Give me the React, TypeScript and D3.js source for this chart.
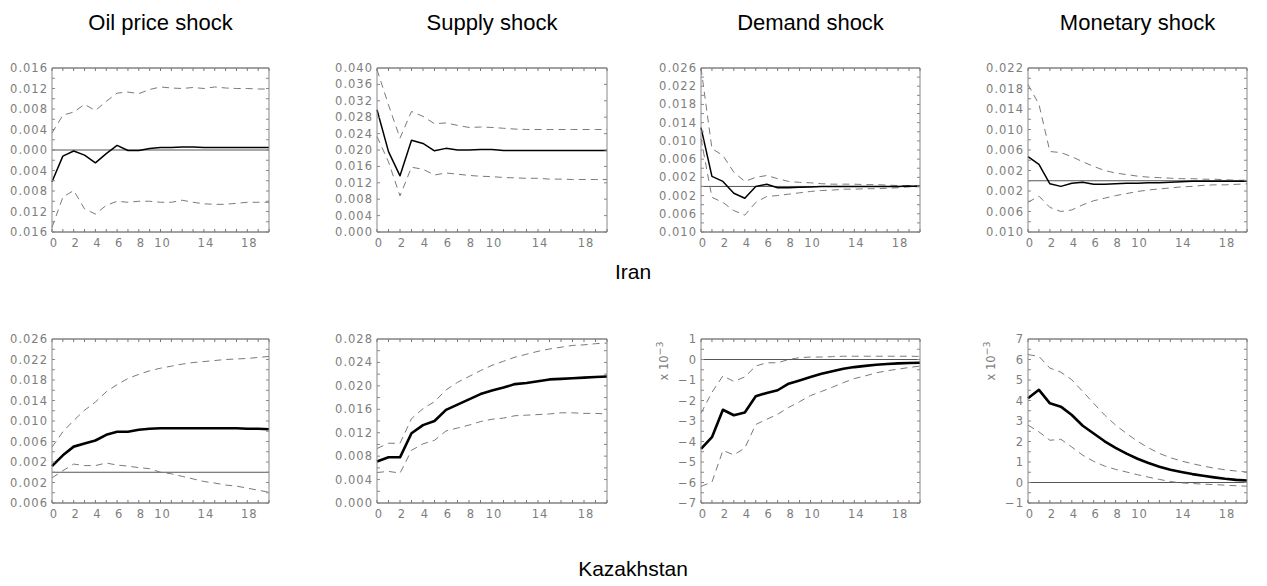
import * as d3 from "d3";

// horizon (quarters after the shock)
const horizon = [0, 1, 2, 3, 4, 5, 6, 7, 8, 9, 10, 11, 12, 13, 14, 15, 16, 17, 18, 19, 20];
const xTicks = [0, 2, 4, 6, 8, 10, 14, 18];

const shockTitles = ["Oil price shock", "Supply shock", "Demand shock", "Monetary shock"];
const countries = ["Iran", "Kazakhstan"];

// ---- Iran ----
const iranOilMid = [-0.0062, -0.0012, -0.0002, -0.001, -0.0025, -0.0007, 0.0009, -0.0001, -0.0001, 0.0003, 0.0005, 0.0005, 0.0006, 0.0006, 0.0005, 0.0005, 0.0005, 0.0005, 0.0005, 0.0005, 0.0005];
const iranOilHi = [0.0033, 0.0068, 0.0074, 0.0089, 0.0077, 0.0095, 0.0111, 0.0113, 0.011, 0.0118, 0.0123, 0.0121, 0.012, 0.0122, 0.012, 0.0123, 0.0121, 0.012, 0.012, 0.0119, 0.0119];
const iranOilLo = [-0.0151, -0.0092, -0.0079, -0.0115, -0.0125, -0.0108, -0.01, -0.0102, -0.01, -0.01, -0.0102, -0.0102, -0.0098, -0.0102, -0.0105, -0.0106, -0.0106, -0.0104, -0.0102, -0.0102, -0.0102];
const iranOilTicks = [-0.016, -0.012, -0.008, -0.004, 0, 0.004, 0.008, 0.012, 0.016];

const iranSupplyMid = [0.0298, 0.0196, 0.0137, 0.0224, 0.0216, 0.0198, 0.0204, 0.02, 0.02, 0.0201, 0.0201, 0.0199, 0.0199, 0.0199, 0.0199, 0.0199, 0.0199, 0.0199, 0.0199, 0.0199, 0.0199];
const iranSupplyHi = [0.0396, 0.031, 0.0229, 0.0294, 0.0282, 0.0264, 0.0266, 0.026, 0.0255, 0.0256, 0.0255, 0.0253, 0.0251, 0.025, 0.025, 0.025, 0.025, 0.025, 0.025, 0.025, 0.025];
const iranSupplyLo = [0.0233, 0.0171, 0.0088, 0.0158, 0.0153, 0.0139, 0.0144, 0.0141, 0.0138, 0.0136, 0.0135, 0.0133, 0.0132, 0.0131, 0.0131, 0.0129, 0.0129, 0.0128, 0.0128, 0.0128, 0.0128];
const iranSupplyTicks = [0, 0.004, 0.008, 0.012, 0.016, 0.02, 0.024, 0.028, 0.032, 0.036, 0.04];

const iranDemandMid = [0.0129, 0.0022, 0.0011, -0.0015, -0.0026, 0, 0.0005, -0.0003, -0.0003, -0.0002, -0.0001, 0, 0, 0, 0, 0, 0, 0, 0, 0.0001, 0];
const iranDemandHi = [0.026, 0.0083, 0.0068, 0.0031, 0.0011, 0.002, 0.0024, 0.0017, 0.0011, 0.0009, 0.0008, 0.0006, 0.0005, 0.0005, 0.0005, 0.0004, 0.0004, 0.0003, 0.0002, 0.0002, 0.0002];
const iranDemandLo = [0.0105, -0.0024, -0.0035, -0.0053, -0.0063, -0.0035, -0.0022, -0.002, -0.0017, -0.0014, -0.0011, -0.0009, -0.0008, -0.0006, -0.0006, -0.0005, -0.0005, -0.0004, -0.0003, -0.0001, 0];
const iranDemandTicks = [-0.01, -0.006, -0.002, 0.002, 0.006, 0.01, 0.014, 0.018, 0.022, 0.026];

const iranMonetaryMid = [0.0047, 0.0032, -0.0006, -0.0011, -0.0005, -0.0003, -0.0007, -0.0007, -0.0006, -0.0005, -0.0005, -0.0004, -0.0004, -0.0003, -0.0002, -0.0001, -0.0001, -0.0001, -0.0001, -0.0001, -0.0001];
const iranMonetaryHi = [0.0188, 0.0149, 0.0057, 0.0055, 0.0047, 0.0037, 0.0028, 0.002, 0.0015, 0.0012, 0.0009, 0.0007, 0.0006, 0.0005, 0.0004, 0.0004, 0.0003, 0.0003, 0.0002, 0.0001, 0.0001];
const iranMonetaryLo = [-0.0042, -0.003, -0.0052, -0.006, -0.0057, -0.0047, -0.0039, -0.0034, -0.0029, -0.0025, -0.0021, -0.0018, -0.0016, -0.0014, -0.0012, -0.0011, -0.0009, -0.0008, -0.0008, -0.0007, -0.0006];
const iranMonetaryTicks = [-0.01, -0.006, -0.002, 0.002, 0.006, 0.01, 0.014, 0.018, 0.022];

// ---- Kazakhstan ----
const kazOilMid = [0.0012, 0.0033, 0.005, 0.0056, 0.0062, 0.0073, 0.0079, 0.0079, 0.0083, 0.0085, 0.0086, 0.0086, 0.0086, 0.0086, 0.0086, 0.0086, 0.0086, 0.0086, 0.0085, 0.0085, 0.0084];
const kazOilHi = [0.0049, 0.0079, 0.0101, 0.0121, 0.0137, 0.0157, 0.0171, 0.0183, 0.0191, 0.0198, 0.0203, 0.0207, 0.0211, 0.0214, 0.0216, 0.0218, 0.022, 0.0221, 0.0222, 0.0224, 0.0226];
const kazOilLo = [-0.0011, 0.0003, 0.0016, 0.0013, 0.0013, 0.0018, 0.0014, 0.0012, 0.0009, 0.0007, 0, -0.0003, -0.0008, -0.0013, -0.0018, -0.0021, -0.0025, -0.0027, -0.0031, -0.0035, -0.0039];
const kazOilTicks = [-0.006, -0.002, 0.002, 0.006, 0.01, 0.014, 0.018, 0.022, 0.026];

const kazSupplyMid = [0.0071, 0.0078, 0.0078, 0.0119, 0.0133, 0.014, 0.0159, 0.0168, 0.0177, 0.0186, 0.0192, 0.0197, 0.0203, 0.0205, 0.0208, 0.0211, 0.0212, 0.0213, 0.0214, 0.0215, 0.0216];
const kazSupplyHi = [0.0093, 0.0102, 0.0102, 0.0144, 0.0161, 0.0173, 0.0193, 0.0206, 0.0216, 0.0226, 0.0235, 0.0242, 0.0249, 0.0254, 0.0259, 0.0263, 0.0266, 0.0269, 0.027, 0.0272, 0.0273];
const kazSupplyLo = [0.0052, 0.0054, 0.0051, 0.009, 0.0101, 0.0107, 0.0123, 0.0128, 0.0133, 0.0139, 0.0143, 0.0145, 0.0149, 0.015, 0.0151, 0.0152, 0.0154, 0.0154, 0.0153, 0.0153, 0.0152];
const kazSupplyTicks = [0, 0.004, 0.008, 0.012, 0.016, 0.02, 0.024, 0.028];

// these two panels are shown in units of 10^-3
const kazDemandMid = [-4.36, -3.79, -2.45, -2.72, -2.59, -1.79, -1.63, -1.5, -1.18, -1.02, -0.85, -0.7, -0.57, -0.45, -0.37, -0.31, -0.26, -0.22, -0.19, -0.17, -0.16];
const kazDemandHi = [-2.62, -1.6, -0.8, -1.07, -0.85, -0.32, -0.16, -0.16, 0, 0.09, 0.12, 0.12, 0.14, 0.16, 0.16, 0.16, 0.16, 0.16, 0.16, 0.16, 0.15];
const kazDemandLo = [-6.19, -5.98, -4.44, -4.65, -4.32, -3.17, -2.92, -2.67, -2.34, -2.06, -1.76, -1.56, -1.35, -1.13, -0.93, -0.8, -0.65, -0.55, -0.47, -0.39, -0.32];
const kazDemandTicks = [-7, -6, -5, -4, -3, -2, -1, 0, 1];

const kazMonetaryMid = [4.11, 4.52, 3.86, 3.7, 3.29, 2.77, 2.39, 2.01, 1.69, 1.41, 1.16, 0.95, 0.77, 0.62, 0.51, 0.41, 0.33, 0.25, 0.18, 0.13, 0.1];
const kazMonetaryHi = [6.24, 6.15, 5.58, 5.38, 5.01, 4.44, 3.86, 3.29, 2.8, 2.39, 2.01, 1.69, 1.42, 1.21, 1.05, 0.92, 0.8, 0.7, 0.62, 0.56, 0.51];
const kazMonetaryLo = [2.8, 2.47, 2.06, 2.11, 1.73, 1.33, 1.03, 0.8, 0.64, 0.51, 0.38, 0.26, 0.15, 0.05, -0.02, -0.05, -0.08, -0.1, -0.13, -0.16, -0.18];
const kazMonetaryTicks = [-1, 0, 1, 2, 3, 4, 5, 6, 7];

// layout
const colLeft = [52, 377, 701, 1028];
const colWidth = [217, 230, 219, 219];
const rowTop = [68, 339];
const panelH = 164;

const tickFont = "DejaVu Sans, sans-serif";
const titleFont = "Liberation Sans, Arial, sans-serif";

type PanelSpec = {
  mid: number[];
  hi: number[];
  lo: number[];
  ticks: number[];
  minor: number;
  milli?: boolean;
};

const panels: PanelSpec[][] = [
  [
    { mid: iranOilMid, hi: iranOilHi, lo: iranOilLo, ticks: iranOilTicks, minor: 2 },
    { mid: iranSupplyMid, hi: iranSupplyHi, lo: iranSupplyLo, ticks: iranSupplyTicks, minor: 1 },
    { mid: iranDemandMid, hi: iranDemandHi, lo: iranDemandLo, ticks: iranDemandTicks, minor: 2 },
    { mid: iranMonetaryMid, hi: iranMonetaryHi, lo: iranMonetaryLo, ticks: iranMonetaryTicks, minor: 2 },
  ],
  [
    { mid: kazOilMid, hi: kazOilHi, lo: kazOilLo, ticks: kazOilTicks, minor: 2 },
    { mid: kazSupplyMid, hi: kazSupplyHi, lo: kazSupplyLo, ticks: kazSupplyTicks, minor: 2 },
    { mid: kazDemandMid, hi: kazDemandHi, lo: kazDemandLo, ticks: kazDemandTicks, minor: 2, milli: true },
    { mid: kazMonetaryMid, hi: kazMonetaryHi, lo: kazMonetaryLo, ticks: kazMonetaryTicks, minor: 2, milli: true },
  ],
];

function fmt(v: number, milli?: boolean) {
  if (milli) return v < 0 ? `\u2212${Math.abs(v)}` : `${v}`;
  // the original plot drops the minus sign on its labels
  return Math.abs(v).toFixed(3);
}

function Panel({ spec, x0, y0, w, h, thick }: { spec: PanelSpec; x0: number; y0: number; w: number; h: number; thick: boolean }) {
  const x = d3.scaleLinear().domain([0, 20]).range([0, w]);
  const y = d3.scaleLinear().domain(d3.extent(spec.ticks) as [number, number]).range([h, 0]);
  const line = d3.line<number>().x((_, i) => x(horizon[i])).y((d) => y(d));

  const step = spec.ticks[1] - spec.ticks[0];
  const minorTicks: number[] = [];
  for (let i = 0; i < spec.ticks.length - 1; i++) {
    for (let k = 0; k < spec.minor; k++) minorTicks.push(spec.ticks[i] + (step * k) / spec.minor);
  }
  const [lo, hi] = y.domain();
  const showZero = lo < 0 && hi > 0;

  return (
    <g transform={`translate(${x0},${y0})`}>
      {showZero && <line x1={0} x2={w} y1={y(0)} y2={y(0)} stroke="#555" strokeWidth={1} />}
      <path d={line(spec.hi) || ""} fill="none" stroke="#7a7a7a" strokeWidth={1} strokeDasharray="7,5" />
      <path d={line(spec.lo) || ""} fill="none" stroke="#7a7a7a" strokeWidth={1} strokeDasharray="7,5" />
      <path d={line(spec.mid) || ""} fill="none" stroke="#000" strokeWidth={thick ? 2.6 : 1.5} strokeLinejoin="round" />

      {/* frame */}
      <line x1={0} x2={w} y1={0} y2={0} stroke="#444" />
      <line x1={0} x2={w} y1={h} y2={h} stroke="#444" />
      <line x1={0} x2={0} y1={0} y2={h} stroke="#888" />
      <line x1={w} x2={w} y1={0} y2={h} stroke="#888" />

      {horizon.map((t) => (
        <g key={`xt${t}`} stroke="#777">
          <line x1={x(t)} x2={x(t)} y1={h} y2={h - 3} />
          <line x1={x(t)} x2={x(t)} y1={0} y2={3} />
        </g>
      ))}
      {minorTicks.map((v, i) => (
        <g key={`yt${i}`} stroke="#888">
          <line x1={0} x2={3} y1={y(v)} y2={y(v)} />
          <line x1={w} x2={w - 3} y1={y(v)} y2={y(v)} />
        </g>
      ))}

      {xTicks.map((t) => (
        <text key={`xl${t}`} x={x(t) + 2} y={h + 15} textAnchor="middle" fontFamily={tickFont} fontSize={11.5} letterSpacing={1} fill="#7d7d7d">
          {t}
        </text>
      ))}
      {spec.ticks.map((v) => (
        <text key={`yl${v}`} x={-4} y={y(v) + 4} textAnchor="end" fontFamily={tickFont} fontSize={11.5} letterSpacing={1} fill="#7d7d7d">
          {fmt(v, spec.milli)}
        </text>
      ))}
      {spec.milli && (
        <text transform={`translate(${-33},${22}) rotate(-90)`} textAnchor="middle" fontFamily={tickFont} fontSize={11.5} fill="#7d7d7d">
          x 10
          <tspan dy={-5} fontSize={9.5}>{"\u22123"}</tspan>
        </text>
      )}
    </g>
  );
}

export default function App() {
  return (
    <svg width={1267} height={586} style={{ position: "absolute", left: 0, top: 0, background: "#fff" }}>
      <rect width={1267} height={586} fill="#fff" />
      {shockTitles.map((t, c) => (
        <text key={t} x={colLeft[c] + colWidth[c] / 2} y={30} textAnchor="middle" fontFamily={titleFont} fontSize={22} fill="#000">
          {t}
        </text>
      ))}
      {panels.map((row, r) =>
        row.map((spec, c) => (
          <Panel key={`${r}-${c}`} spec={spec} x0={colLeft[c]} y0={rowTop[r]} w={colWidth[c]} h={panelH} thick={r === 1} />
        )),
      )}
      <text x={633} y={279} textAnchor="middle" fontFamily={titleFont} fontSize={21} fill="#000">
        {countries[0]}
      </text>
      <text x={633} y={576} textAnchor="middle" fontFamily={titleFont} fontSize={21} fill="#000">
        {countries[1]}
      </text>
    </svg>
  );
}
